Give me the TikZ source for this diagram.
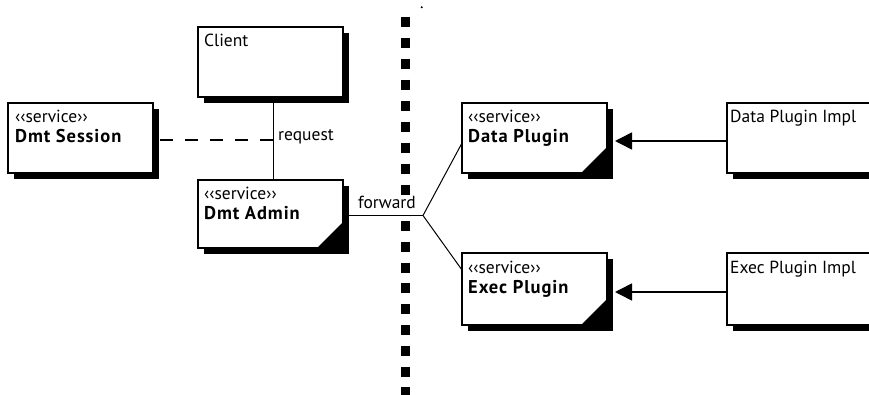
\documentclass[tikz,border=0pt]{standalone}
\usepackage{fontspec}
\setmainfont{PT Sans}
\newfontfamily\boldwide[LetterSpace=5]{PT Sans Bold}
\usetikzlibrary{shadows,arrows.meta,calc}
\tikzset{
  umlbox/.style={draw, line width=2pt, fill=white, rectangle, minimum width=145pt,
    minimum height=70pt, inner sep=0pt, outer sep=0pt, anchor=north west,
    drop shadow={shadow xshift=6pt, shadow yshift=-6pt, opacity=1, fill=black}},
  stereo/.style={anchor=base west, inner sep=0pt, font=\fontsize{17.5}{20}\selectfont},
  titletext/.style={anchor=base west, inner sep=0pt, font=\boldwide\fontsize{18.5}{20}\selectfont},
  lbl/.style={inner sep=0pt, font=\fontsize{17.5}{20}\selectfont},
  conn/.style={line width=1.6pt},
  thinconn/.style={line width=1pt},
  divider/.style={line width=9pt},
  cornerfold/.style={fill=black}
}
\begin{document}
\begin{tikzpicture}[x=1pt,y=-1pt]
\clip (0,0) rectangle (869,395);
\fill[white] (0,0) rectangle (869,395);

% divider
\draw[divider, dash pattern=on 10pt off 11pt] (405.5,16.7) -- (405.5,196);
\draw[divider, dash pattern=on 10pt off 10.8pt] (405.5,221) -- (405.5,400);
\fill (421.7,7.3) circle (1.1);

% boxes
\node[umlbox] (client) at (198,27) {};
\node[umlbox] (session) at (8,103) {};
\node[umlbox, minimum height=68pt] (admin) at (198,180) {};
\node[umlbox] (dp) at (462,103) {};
\node[umlbox, minimum height=72pt] (ep) at (462,253) {};
\node[umlbox, minimum width=170pt] (dpi) at (727,103) {};
\node[umlbox, minimum width=170pt, minimum height=72pt] (epi) at (727,253) {};

% folded corners
\fill[cornerfold] (admin.south east) -- ++(-26,0) -- ++(26,-26) -- cycle;
\fill[cornerfold] (dp.south east) -- ++(-26,0) -- ++(26,-26) -- cycle;
\fill[cornerfold] (ep.south east) -- ++(-26,0) -- ++(26,-26) -- cycle;

% texts
\node[stereo] (clientT) at ($(client.north west)+(6,20)$) {Client};
\node[stereo] (sessionS) at ($(session.north west)+(7,20)$) {‹‹service››};
\node[titletext] (sessionT) at ($(session.north west)+(7,40)$) {Dmt Session};
\node[stereo] (adminS) at ($(admin.north west)+(6,20)$) {‹‹service››};
\node[titletext] (adminT) at ($(admin.north west)+(6,40)$) {Dmt Admin};
\node[stereo] (dpS) at ($(dp.north west)+(6,20)$) {‹‹service››};
\node[titletext] (dpT) at ($(dp.north west)+(6,40)$) {Data Plugin};
\node[stereo] (epS) at ($(ep.north west)+(6,20)$) {‹‹service››};
\node[titletext] (epT) at ($(ep.north west)+(6,40)$) {Exec Plugin};
\node[stereo] (dpiT) at ($(dpi.north west)+(3,20)$) {Data Plugin Impl};
\node[stereo] (epiT) at ($(epi.north west)+(3,20)$) {Exec Plugin Impl};

% connectors
\coordinate (reqtop) at ($(client.south)+(3,0)$);
\coordinate (reqbot) at ($(admin.north)+(3,0)$);
\draw[conn] (reqtop) -- (reqbot);
\coordinate (sessR) at ($(session.east)+(7,2)$);
\draw[conn, dash pattern=on 13pt off 12pt] (sessR) -- (sessR -| reqtop);
\node[lbl, anchor=base west] (reqL) at (278,141) {request};

\coordinate (fj) at (423,215.5);
\draw[thinconn] ($(admin.east)+(0,1.5)$) -- (fj);
\draw[thinconn] (fj) -- ($(dp.north west)+(0,40)$);
\draw[thinconn] (fj) -- ($(ep.north west)+(0,17)$);
\node[lbl, anchor=base west] (fwdL) at (358,209) {forward};

\draw[conn, -{Triangle[length=17pt,width=17pt]}] ($(dpi.west)+(0,3)$) -- ($(dp.east)+(8,3)$);
\draw[conn, -{Triangle[length=17pt,width=17pt]}] ($(epi.west)+(0,3)$) -- ($(ep.east)+(8,3)$);
\end{tikzpicture}
\end{document}
